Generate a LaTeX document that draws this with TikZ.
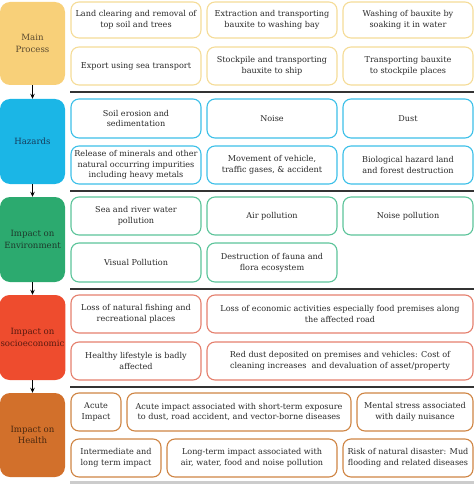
\documentclass[tikz,border=0pt]{standalone}
\usepackage{fontspec}
\setmainfont{DejaVu Serif}
\usetikzlibrary{arrows.meta}
\definecolor{mpF}{HTML}{F8D079}\definecolor{mpB}{HTML}{F5DC98}\definecolor{mpT}{HTML}{5A4A30}
\definecolor{hzF}{HTML}{1BB6E6}\definecolor{hzB}{HTML}{3CC0E8}\definecolor{hzT}{HTML}{163C5C}
\definecolor{enF}{HTML}{2CAA6F}\definecolor{enB}{HTML}{5CC49A}\definecolor{enT}{HTML}{1E3A2C}
\definecolor{soF}{HTML}{EE4C2E}\definecolor{soB}{HTML}{E5806E}\definecolor{soT}{HTML}{5A1A10}
\definecolor{heF}{HTML}{D2702B}\definecolor{heB}{HTML}{CF8544}\definecolor{heT}{HTML}{4A2810}
\definecolor{txt}{HTML}{2A2A2A}
\newcommand\cellbox[7]{%
 \pgfmathsetmacro\cw{#4-#2}\pgfmathsetmacro\ch{#5-#3}%
 \pgfmathsetmacro\cx{(#2+#4)/2}\pgfmathsetmacro\cy{(#3+#5)/2}%
 \node[cell,draw=#6,minimum width=\cw pt,minimum height=\ch pt] (#1) at (\cx,\cy) {#7};}
\newcommand\catbox[6]{%
 \pgfmathsetmacro\ch{#3-#2}\pgfmathsetmacro\cy{(#2+#3)/2}%
 \node[cat,fill=#4,text=#5,minimum height=\ch pt] (#1) at (32.5,\cy) {#6};}
\begin{document}
\begin{tikzpicture}[x=1pt,y=-1pt,
 cell/.style={rounded corners=8pt,line width=1.1pt,fill=white,align=center,
   font=\fontsize{8.1}{10.8}\selectfont,text=txt,inner sep=1pt},
 cat/.style={rounded corners=10pt,align=center,minimum width=65pt,inner sep=1pt,
   font=\fontsize{8.6}{11.5}\selectfont},
 sep/.style={draw=black!80,line width=2pt},
 flow/.style={-{Stealth[length=5pt,width=4.5pt]},line width=1pt,black}]
\useasboundingbox (0,0) rectangle (474,484);
% categories
\catbox{mp}{2}{85}{mpF}{mpT}{Main\\Process}
\catbox{hz}{99}{184}{hzF}{hzT}{Hazards}
\catbox{en}{197}{282}{enF}{enT}{Impact on\\Environment}
\catbox{so}{295}{380}{soF}{soT}{Impact on\\socioeconomic}
\catbox{he}{393}{477}{heF}{heT}{Impact on\\Health}
\draw[flow] (mp) -- (hz);
\draw[flow] (hz) -- (en);
\draw[flow] (en) -- (so);
\draw[flow] (so) -- (he);
% separators
\coordinate (s1a) at (70,92);\coordinate (s1b) at (474,92);
\coordinate (s2a) at (70,190.5);\coordinate (s2b) at (474,190.5);
\coordinate (s3a) at (70,288.5);\coordinate (s3b) at (474,288.5);
\coordinate (s4a) at (70,386.5);\coordinate (s4b) at (474,386.5);
\coordinate (s5a) at (70,482);\coordinate (s5b) at (474,482);
\draw[sep] (s1a) -- (s1b);
\draw[sep] (s2a) -- (s2b);
\draw[sep] (s3a) -- (s3b);
\draw[sep] (s4a) -- (s4b);
\draw[draw=black!20,line width=3pt] (s5a) -- (s5b);
% main process
\cellbox{m1}{71}{2}{201}{38}{mpB}{Land clearing and removal of\\top soil and trees}
\cellbox{m2}{207}{2}{337}{38}{mpB}{Extraction and transporting\\bauxite to washing bay}
\cellbox{m3}{343}{2}{473}{38}{mpB}{Washing of bauxite by\\soaking it in water}
\cellbox{m4}{71}{47}{201}{85}{mpB}{Export using sea transport}
\cellbox{m5}{207}{47}{337}{85}{mpB}{Stockpile and transporting\\bauxite to ship}
\cellbox{m6}{343}{47}{473}{85}{mpB}{Transporting bauxite\\to stockpile places}
% hazards
\cellbox{h1}{71}{99}{201}{138}{hzB}{Soil erosion and\\sedimentation}
\cellbox{h2}{207}{99}{337}{138}{hzB}{Noise}
\cellbox{h3}{343}{99}{473}{138}{hzB}{Dust}
\cellbox{h4}{71}{146}{201}{184}{hzB}{Release of minerals and other\\natural occurring impurities\\including heavy metals}
\cellbox{h5}{207}{146}{337}{184}{hzB}{Movement of vehicle,\\traffic gases, \& accident}
\cellbox{h6}{343}{146}{473}{184}{hzB}{Biological hazard land\\and forest destruction}
% environment
\cellbox{e1}{71}{197}{201}{235}{enB}{Sea and river water\\pollution}
\cellbox{e2}{207}{197}{337}{235}{enB}{Air pollution}
\cellbox{e3}{343}{197}{473}{235}{enB}{Noise pollution}
\cellbox{e4}{71}{243}{201}{282}{enB}{Visual Pollution}
\cellbox{e5}{207}{243}{337}{282}{enB}{Destruction of fauna and\\flora ecosystem}
% socioeconomic
\cellbox{o1}{71}{295}{201}{333}{soB}{Loss of natural fishing and\\recreational places}
\cellbox{o2}{207}{295}{473}{333}{soB}{Loss of economic activities especially food premises along\\the affected road}
\cellbox{o3}{71}{342}{201}{380}{soB}{Healthy lifestyle is badly\\affected}
\cellbox{o4}{207}{342}{473}{380}{soB}{Red dust deposited on premises and vehicles: Cost of\\cleaning increases\ \ and devaluation of asset/property}
% health
\cellbox{k1}{71}{393}{121}{431}{heB}{Acute\\Impact}
\cellbox{k2}{127}{393}{351}{431}{heB}{Acute impact associated with short-term exposure\\to dust, road accident, and vector-borne diseases}
\cellbox{k3}{357}{393}{473}{431}{heB}{Mental stress associated\\with daily nuisance}
\cellbox{k4}{71}{439}{161}{477}{heB}{Intermediate and\\long term impact}
\cellbox{k5}{167}{439}{337}{477}{heB}{Long-term impact associated with\\air, water, food and noise pollution}
\cellbox{k6}{343}{439}{473}{477}{heB}{Risk of natural disaster: Mud\\flooding and related diseases}
\end{tikzpicture}
\end{document}
